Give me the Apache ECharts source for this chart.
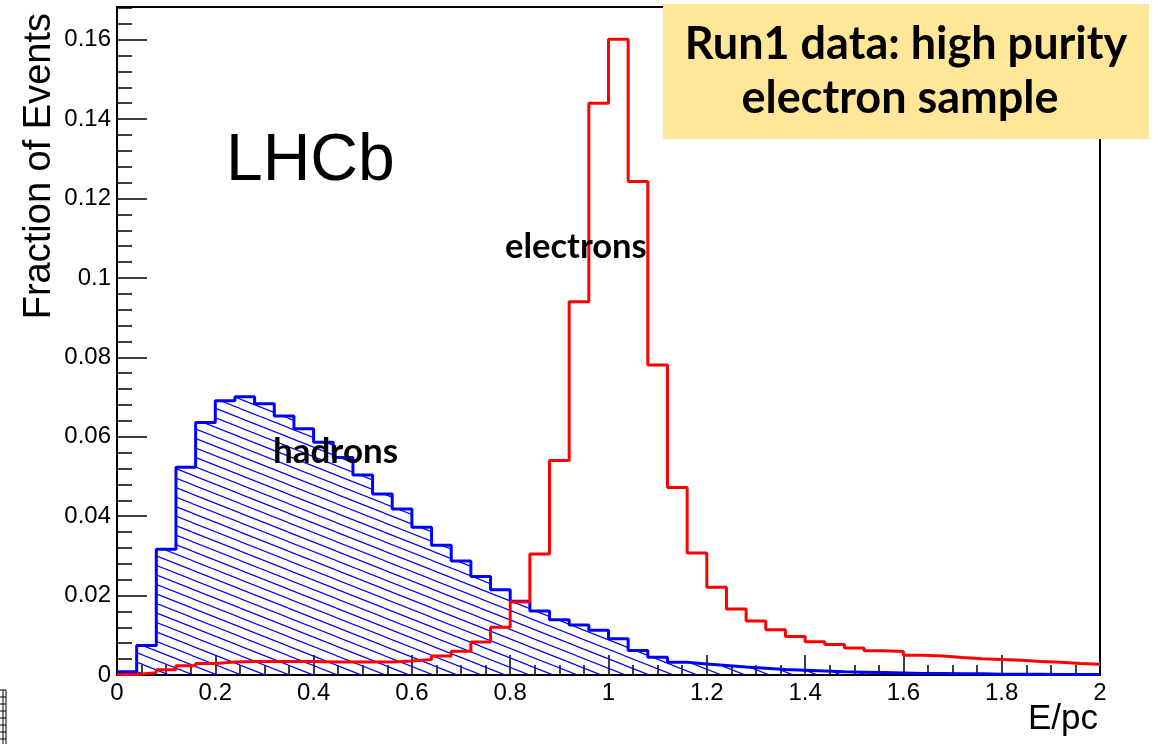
<!DOCTYPE html>
<html>
<head>
<meta charset="utf-8">
<script src="https://cdn.jsdelivr.net/npm/echarts@6/dist/echarts.min.js"></script>
<style>
  html, body { margin: 0; padding: 0; background: #fff; }
  #chart { width: 1158px; height: 744px; }
</style>
</head>
<body>
<div id="chart"></div>
<script>
// E/pc histograms, 50 bins of 0.04 from 0 to 2
var binWidth = 0.04;
var hadrons = [
    0.0008, 0.0074, 0.0317, 0.0523, 0.0636, 0.0691, 0.0701, 0.0683, 0.0652, 0.0620,
    0.0586, 0.0548, 0.0504, 0.0456, 0.0418, 0.0372, 0.0327, 0.0287, 0.0248, 0.0215,
    0.0186, 0.0161, 0.0139, 0.0126, 0.0113, 0.0091, 0.0062, 0.0045, 0.0032, 0.0028,
    0.0024, 0.0020, 0.0017, 0.0014, 0.0012, 0.0010, 0.0008, 0.0007, 0.0006, 0.0005,
    0.0004, 0.0004, 0.0003, 0.0003, 0.0002, 0.0002, 0.0002, 0.0001, 0.0001, 0.0001
];
var electrons = [
    0.0001, 0.0006, 0.0013, 0.0023, 0.0029, 0.0033, 0.0034, 0.0034, 0.0034, 0.0034,
    0.0033, 0.0033, 0.0033, 0.0033, 0.0035, 0.0039, 0.0048, 0.0060, 0.0083, 0.0120,
    0.0184, 0.0305, 0.0540, 0.0940, 0.1440, 0.1601, 0.1243, 0.0781, 0.0472, 0.0307,
    0.0221, 0.0166, 0.0136, 0.0114, 0.0097, 0.0084, 0.0077, 0.0068, 0.0061, 0.0059,
    0.0050, 0.0048, 0.0044, 0.0041, 0.0039, 0.0037, 0.0034, 0.0032, 0.0029, 0.0027
];
var xRange = [0, 2];
var yRange = [0, 0.16824];

// step points: one per bin low edge, plus the last upper edge
function histPoints(vals) {
    var pts = [];
    for (var i = 0; i < vals.length; i++) {
        pts.push([+(i * binWidth).toFixed(2), vals[i]]);
    }
    pts.push([xRange[1], vals[vals.length - 1]]);
    return pts;
}

// ROOT-like "\\\\" hatch tile (seamless: drop of one tile height per tile width)
function hatchTile() {
    var c = document.createElement('canvas');
    c.width = 48;
    c.height = 19;
    var ctx = c.getContext('2d');
    ctx.strokeStyle = '#0000ff';
    ctx.lineWidth = 1.2;
    for (var k = -2; k <= 2; k++) {
        ctx.beginPath();
        ctx.moveTo(0, k * 9.5);
        ctx.lineTo(48, k * 9.5 + 19);
        ctx.stroke();
    }
    return c;
}

var axisFont = 'Liberation Sans, Arial, sans-serif';
var noteFont = 'Lato, Open Sans, sans-serif';

var option = {
    animation: false,
    backgroundColor: '#fff',
    grid: {
        left: 117, right: 58, top: 7, bottom: 69,
        show: true, borderColor: '#000', borderWidth: 2, backgroundColor: 'transparent'
    },
    xAxis: {
        type: 'value', min: xRange[0], max: xRange[1], interval: 0.2,
        axisLine: { lineStyle: { color: '#000', width: 2 } },
        axisTick: { inside: true, length: 20, lineStyle: { color: '#000', width: 1.5 } },
        minorTick: { show: true, splitNumber: 4, length: 10, lineStyle: { color: '#000', width: 1.5 } },
        axisLabel: { color: '#000', fontSize: 24, fontFamily: axisFont, margin: 6 },
        splitLine: { show: false }
    },
    yAxis: [
        {
            type: 'value', min: yRange[0], max: yRange[1], interval: 0.02, position: 'left',
            axisLine: { show: true, lineStyle: { color: '#000', width: 2 } },
            axisTick: { show: true, inside: true, length: 30, lineStyle: { color: '#000', width: 1.5 } },
            axisLabel: { color: '#000', fontSize: 24, fontFamily: axisFont, margin: 6, showMaxLabel: false },
            splitLine: { show: false }
        },
        {
            type: 'value', min: yRange[0], max: yRange[1], interval: 0.004, position: 'left', offset: 0,
            axisLine: { show: false },
            axisTick: { show: true, inside: true, length: 15, lineStyle: { color: '#000', width: 1.5 } },
            axisLabel: { show: false },
            splitLine: { show: false }
        }
    ],
    series: [
        {
            name: 'hadrons', type: 'line', step: 'end', symbol: 'none',
            data: histPoints(hadrons),
            lineStyle: { color: '#0000ff', width: 3 },
            areaStyle: { color: { image: hatchTile(), repeat: 'repeat' }, opacity: 1 },
            z: 2
        },
        {
            name: 'electrons', type: 'line', step: 'end', symbol: 'none',
            data: histPoints(electrons),
            lineStyle: { color: '#ff0000', width: 3 },
            z: 3
        }
    ],
    graphic: [
        {
            type: 'text', x: 59, y: 13, rotation: Math.PI / 2, z: 100,
            style: { text: 'Fraction of Events', font: '38px ' + axisFont, fill: '#000',
                     textAlign: 'right', textVerticalAlign: 'bottom' }
        },
        {
            type: 'text', x: 1098, y: 719, z: 100,
            style: { text: 'E/pc', font: '35px ' + axisFont, fill: '#000',
                     textAlign: 'right', textVerticalAlign: 'middle' }
        },
        {
            type: 'text', x: 226, y: 162, z: 100,
            style: { text: 'LHCb', font: '66px ' + axisFont, fill: '#000',
                     textAlign: 'left', textVerticalAlign: 'middle' }
        },
        {
            type: 'text', x: 505, y: 247, z: 100,
            style: { text: 'electrons', font: 'bold 34.5px ' + noteFont, fill: '#000',
                     textAlign: 'left', textVerticalAlign: 'middle' }
        },
        {
            type: 'text', x: 273, y: 452, z: 100,
            style: { text: 'hadrons', font: 'bold 35px ' + noteFont, fill: '#000',
                     textAlign: 'left', textVerticalAlign: 'middle' }
        },
        {
            type: 'rect', z: 100,
            shape: { x: 663, y: 4, width: 486, height: 135 },
            style: { fill: '#ffe699' }
        },
        {
            type: 'text', x: 906, y: 44, z: 101,
            style: { text: 'Run1 data: high purity', font: 'bold 45px ' + noteFont, fill: '#000',
                     textAlign: 'center', textVerticalAlign: 'middle' }
        },
        {
            type: 'text', x: 900, y: 98, z: 101,
            style: { text: 'electron sample', font: 'bold 45px ' + noteFont, fill: '#000',
                     textAlign: 'center', textVerticalAlign: 'middle' }
        },
        {
            // cropped table icon at the bottom-left edge
            type: 'group', z: 100,
            children: [
                { type: 'rect', shape: { x: -1, y: 690, width: 7, height: 56 },
                  style: { fill: 'none', stroke: '#000', lineWidth: 1 } },
                { type: 'line', shape: { x1: 3, y1: 690, x2: 3, y2: 744 }, style: { stroke: '#000', lineWidth: 1 } },
                { type: 'line', shape: { x1: 0, y1: 697, x2: 6, y2: 697 }, style: { stroke: '#000', lineWidth: 1 } },
                { type: 'line', shape: { x1: 0, y1: 704, x2: 6, y2: 704 }, style: { stroke: '#000', lineWidth: 1 } },
                { type: 'line', shape: { x1: 0, y1: 711, x2: 6, y2: 711 }, style: { stroke: '#000', lineWidth: 1 } },
                { type: 'line', shape: { x1: 0, y1: 718, x2: 6, y2: 718 }, style: { stroke: '#000', lineWidth: 1 } },
                { type: 'line', shape: { x1: 0, y1: 725, x2: 6, y2: 725 }, style: { stroke: '#000', lineWidth: 1 } },
                { type: 'line', shape: { x1: 0, y1: 732, x2: 6, y2: 732 }, style: { stroke: '#000', lineWidth: 1 } },
                { type: 'line', shape: { x1: 0, y1: 739, x2: 6, y2: 739 }, style: { stroke: '#000', lineWidth: 1 } }
            ]
        }
    ]
};

echarts.init(document.getElementById('chart')).setOption(option);
</script>
</body>
</html>
